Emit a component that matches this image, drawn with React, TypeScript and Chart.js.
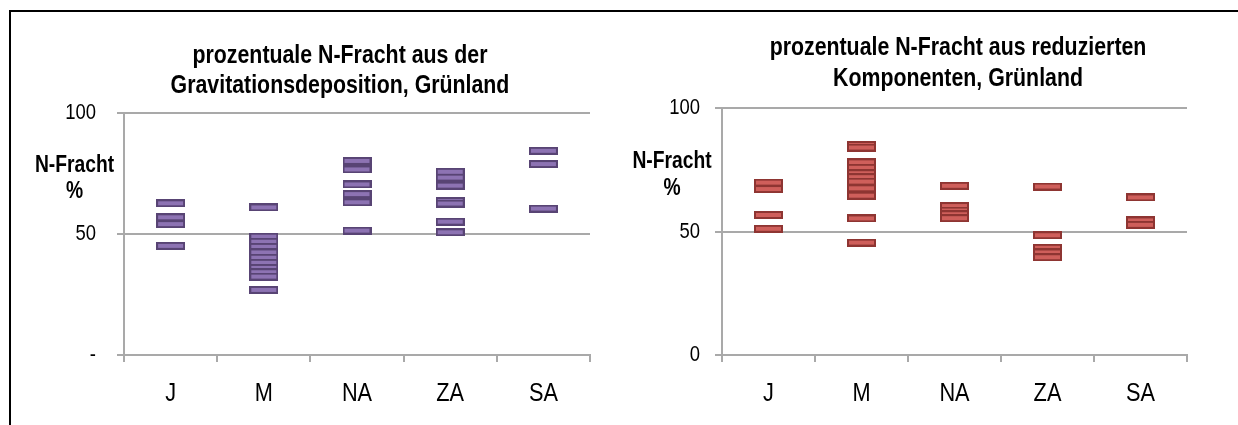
import React, { useEffect, useRef } from 'react';
import { Chart, registerables } from 'chart.js';

Chart.register(...registerables);

// ---------- data ----------
const categories = ['J', 'M', 'NA', 'ZA', 'SA'];

// left panel: Gravitationsdeposition
const gravJ = [62.7, 56.9, 54.1, 45.1];
const gravM = [61.0, 48.9, 46.8, 44.7, 42.4, 40.2, 38.1, 36.0, 34.2, 32.4, 26.9];
const gravNA = [80.2, 76.7, 70.5, 66.5, 63.1, 51.4];
const gravZA = [75.7, 73.3, 70.0, 63.6, 62.6, 55.1, 50.7];
const gravSA = [84.4, 78.9, 60.5];

// right panel: reduzierte Komponenten
const redJ = [69.8, 67.2, 56.7, 51.1];
const redM = [85.0, 84.0, 78.0, 75.8, 73.6, 72.0, 70.2, 67.5, 64.5, 55.3, 45.5];
const redNA = [68.5, 60.3, 58.5, 57.0, 55.4];
const redZA = [68.2, 48.5, 43.4, 41.5, 39.6];
const redSA = [63.8, 54.5, 52.7];

const leftTitle = ['prozentuale N-Fracht aus der', 'Gravitationsdeposition, Grünland'];
const rightTitle = ['prozentuale N-Fracht aus reduzierten', 'Komponenten, Grünland'];
const yAxisTitle = ['N-Fracht', '%'];
const yTickValues = [0, 50, 100];
const leftYTickLabels = ['-', '50', '100'];
const rightYTickLabels = ['0', '50', '100'];

const GRID = '#a9a9a9';
const FAMILY = "'Liberation Sans', Arial, sans-serif";
// the reference uses a condensed face; glyphs are drawn horizontally condensed
const CONDENSE = 0.82;
const SIZES = { title: 26, yTitle: 23.5, yTick: 22.5, xTick: 26.5, xPad: 16 };

const panelTextPlugin = {
  id: 'panelText',
  beforeInit(chart: any) {
    const ctx = chart.ctx;
    const orig = ctx.fillText.bind(ctx);
    ctx.fillText = (text: string, x: number, y: number, maxWidth?: number) => {
      ctx.save();
      ctx.translate(x, y);
      ctx.scale(CONDENSE, 1);
      if (maxWidth !== undefined) orig(text, 0, 0, maxWidth / CONDENSE);
      else orig(text, 0, 0);
      ctx.restore();
    };
  },
  afterDraw(chart: any, _args: any, opts: any) {
    const ctx = chart.ctx;
    ctx.save();
    ctx.fillStyle = '#000';
    ctx.textAlign = 'center';
    ctx.textBaseline = 'alphabetic';
    ctx.font = `bold ${opts.titleSize}px ${FAMILY}`;
    (opts.title as string[]).forEach((line, i) => {
      ctx.fillText(line, opts.titleX, opts.titleY + i * opts.titleGap);
    });
    ctx.font = `bold ${opts.yTitleSize}px ${FAMILY}`;
    (opts.yTitle as string[]).forEach((line, i) => {
      ctx.fillText(line, opts.yTitleX, opts.yTitleY + i * opts.yTitleGap);
    });
    ctx.restore();
  },
};

function makeDash(fill: string, stroke: string) {
  const c = document.createElement('canvas');
  c.width = 29;
  c.height = 8;
  const g = c.getContext('2d')!;
  g.fillStyle = stroke;
  g.fillRect(0, 0, 29, 8);
  g.fillStyle = fill;
  g.fillRect(2, 2, 25, 4);
  return c;
}

type PanelProps = {
  left: number;
  width: number;
  values: number[][];
  fill: string;
  stroke: string;
  title: string[];
  tickLabels: string[];
  yWidth: number;
  tickPad: number;
  padTop: number;
  padRight: number;
  titleX: number;
  titleY: number;
  titleGap: number;
  yTitleX: number;
  yTitleY: number;
};

const TOP = 14;
const HEIGHT = 411;

function Panel(p: PanelProps) {
  const ref = useRef<HTMLCanvasElement>(null);
  useEffect(() => {
    const dash = makeDash(p.fill, p.stroke);
    const data = categories.flatMap((c, i) => p.values[i].map((v) => ({ x: c, y: v })));
    const chart = new Chart(ref.current!, {
      type: 'line',
      data: {
        labels: categories,
        datasets: [
          {
            data: data as any,
            showLine: false,
            pointStyle: dash as any,
            pointRadius: 5,
            pointBackgroundColor: p.fill,
            pointBorderColor: p.stroke,
          },
        ],
      },
      plugins: [panelTextPlugin],
      options: {
        responsive: false,
        animation: false,
        events: [],
        layout: { padding: { top: p.padTop, right: p.padRight, bottom: 0, left: 0 } },
        plugins: {
          legend: { display: false },
          tooltip: { enabled: false },
          title: { display: false },
          panelText: {
            title: p.title,
            titleSize: SIZES.title,
            titleX: p.titleX,
            titleY: p.titleY,
            titleGap: p.titleGap,
            yTitle: yAxisTitle,
            yTitleSize: SIZES.yTitle,
            yTitleX: p.yTitleX,
            yTitleY: p.yTitleY,
            yTitleGap: 26.5,
          },
        } as any,
        scales: {
          x: {
            type: 'category',
            offset: true,
            grid: {
              display: true,
              offset: true,
              drawOnChartArea: false,
              drawTicks: true,
              tickLength: 7,
              color: GRID,
              lineWidth: 2,
            },
            border: { display: true, color: GRID, width: 2 },
            ticks: {
              color: '#000',
              font: { family: FAMILY, size: SIZES.xTick },
              padding: SIZES.xPad,
              maxRotation: 0,
              autoSkip: false,
            },
            afterFit: (s: any) => {
              s.height = 70;
            },
          },
          y: {
            min: 0,
            max: 100,
            afterBuildTicks: (s: any) => {
              s.ticks = yTickValues.map((v) => ({ value: v }));
            },
            ticks: {
              color: '#000',
              font: { family: FAMILY, size: SIZES.yTick },
              padding: p.tickPad,
              callback: (v: any) => p.tickLabels[yTickValues.indexOf(Number(v))] ?? '',
            },
            grid: { color: GRID, lineWidth: 2, tickLength: 7, drawTicks: true },
            border: { display: true, color: GRID, width: 2 },
            afterFit: (s: any) => {
              s.width = p.yWidth;
            },
          },
        },
      } as any,
    });
    return () => chart.destroy();
  }, []);
  return (
    <canvas
      ref={ref}
      width={p.width}
      height={HEIGHT}
      style={{ position: 'absolute', left: p.left, top: TOP, width: p.width, height: HEIGHT }}
    />
  );
}

export default function App() {
  return (
    <div style={{ position: 'absolute', left: 0, top: 0, width: 1238, height: 425, overflow: 'hidden', background: '#fff' }}>
      <div
        style={{
          position: 'absolute',
          left: 9,
          top: 10,
          width: 1240,
          height: 420,
          borderTop: '2px solid #000',
          borderLeft: '2px solid #000',
        }}
      />
      <Panel
        left={12}
        width={600}
        values={[gravJ, gravM, gravNA, gravZA, gravSA]}
        fill="#8D73B3"
        stroke="#584474"
        title={leftTitle}
        tickLabels={leftYTickLabels}
        yWidth={112}
        tickPad={21}
        padTop={99}
        padRight={22}
        titleX={328}
        titleY={48.5}
        titleGap={30}
        yTitleX={62.5}
        yTitleY={157.7}
      />
      <Panel
        left={620}
        width={618}
        values={[redJ, redM, redNA, redZA, redSA]}
        fill="#CF5F5B"
        stroke="#8E3532"
        title={rightTitle}
        tickLabels={rightYTickLabels}
        yWidth={102}
        tickPad={15}
        padTop={94}
        padRight={51}
        titleX={338}
        titleY={40.8}
        titleGap={30.7}
        yTitleX={52}
        yTitleY={154.3}
      />
    </div>
  );
}
